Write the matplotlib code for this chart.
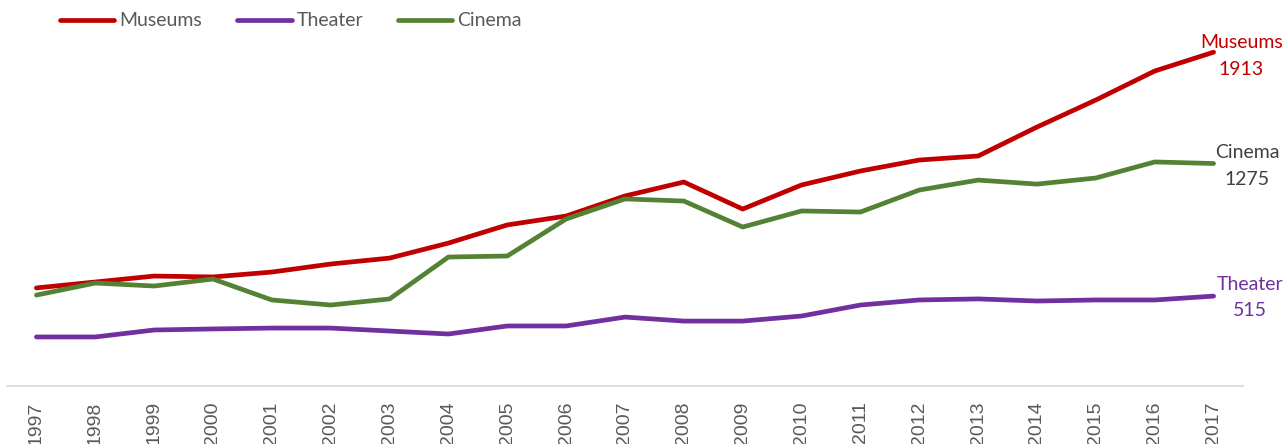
import matplotlib
matplotlib.use('Agg')
import matplotlib.pyplot as plt

# данные
years = list(range(1997, 2018))
museums = [562, 596, 630, 625, 653, 699, 733, 819, 923, 974, 1089,
           1169, 1014, 1152, 1232, 1295, 1318, 1484, 1639, 1805, 1913]
theater = [281, 281, 321, 327, 332, 332, 315, 298, 344, 344, 395,
           372, 372, 401, 464, 493, 499, 487, 493, 493, 515]
cinema = [521, 590, 573, 613, 493, 464, 499, 739, 745, 957, 1072,
          1060, 911, 1003, 997, 1123, 1180, 1157, 1192, 1284, 1275]

series = [
    ('Museums', museums, '#C00000', '#C00000', 20, -3),
    ('Theater', theater, '#7030A0', '#7030A0', 26, -1),
    ('Cinema', cinema, '#548235', '#404040', 24, -2),
]

W, H = 1285, 444
fig = plt.figure(figsize=(W / 100, H / 100), dpi=100)
ax = fig.add_axes([7 / W, (H - 386) / H, 1236 / W, 349 / H])

for name, vals, col, lab_col, dx, dy in series:
    ax.plot(years, vals, color=col, lw=3.4, label=name,
            solid_capstyle='round', solid_joinstyle='round')
    ax.annotate(f'{name}\n{vals[-1]}', xy=(years[-1], vals[-1]),
                xytext=(dx, dy), textcoords='offset points',
                ha='center', va='center', color=lab_col,
                fontsize=14, family='Lato', linespacing=1.7,
                annotation_clip=False)

ax.set_xlim(1996.5, 2017.5)
ax.set_ylim(0, 2000)
ax.set_xticks(years)
ax.set_xticklabels([str(y) for y in years], rotation=90, fontsize=14,
                   color='#595959', family='Liberation Sans')
ax.tick_params(axis='x', length=0, pad=11)
ax.set_yticks([])
for s in ['top', 'right', 'left']:
    ax.spines[s].set_visible(False)
ax.spines['bottom'].set_color('#D9D9D9')
ax.spines['bottom'].set_linewidth(1.2)

leg = fig.legend(loc='center left', bbox_to_anchor=(60 / W, 1 - 21 / H),
                 ncol=3, frameon=False, borderpad=0, borderaxespad=0,
                 handlelength=2.8, handletextpad=0.25, columnspacing=1.8,
                 prop={'family': 'Lato', 'size': 14})
for t in leg.get_texts():
    t.set_color('#595959')
for h in leg.legend_handles:
    h.set_linewidth(3.4)

fig.savefig('out.png', dpi=100)
